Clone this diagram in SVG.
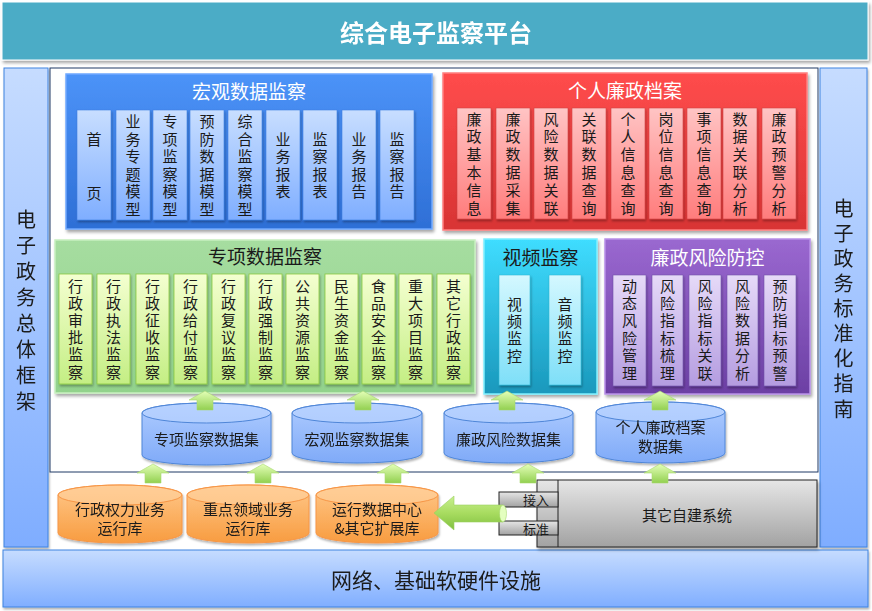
<svg xmlns="http://www.w3.org/2000/svg" width="872" height="611" viewBox="0 0 872 611">
<defs>
<style>
text{font-family:"Noto Sans CJK SC","Noto Sans",sans-serif;text-anchor:middle;dominant-baseline:central;fill:#1a1a1a}
.ct{font-size:15px}
.ttl{font-size:19px}
.w{fill:#fff}
.ds{font-size:15px}
.side{font-size:20px}
.boxM{fill:url(#gBlueBox);stroke:#6FA8FF;stroke-width:1.5}
.boxR{fill:url(#gRed);stroke:#FF8080;stroke-width:1.5}
.boxG{fill:url(#gGreen);stroke:#C8EFC0;stroke-width:1.5}
.boxC{fill:url(#gCyan);stroke:#80F0FF;stroke-width:1.5}
.boxP{fill:url(#gPurple);stroke:#B890E8;stroke-width:1.5}
.colM{fill:url(#gBlueCol);stroke:#3F7FE0;stroke-width:0.6}
.colR{fill:url(#gRedCol);stroke:#D04040;stroke-width:0.6}
.colG{fill:url(#gGreenCol);stroke:#8CC840;stroke-width:0.8}
.colC{fill:url(#gCyanCol);stroke:#30B8D8;stroke-width:0.6}
.colP{fill:url(#gPurpleCol);stroke:#7050A8;stroke-width:0.6}
.cylB{fill:url(#gCylB);stroke:#4F86D8;stroke-width:1}
.cylBt{fill:#BCD6FF;stroke:#4F86D8;stroke-width:1}
.cylO{fill:url(#gCylO);stroke:#F79646;stroke-width:1}
.cylOt{fill:#FFD2A0;stroke:#F79646;stroke-width:1}
.side-r{fill:url(#gSide);stroke:#3F83E0;stroke-width:1}
.arr{fill:url(#gArrow);stroke:#A8D870;stroke-width:0.6}
.gray{fill:url(#gGray);stroke:#222;stroke-width:1}
</style>
<linearGradient id="gSide" x1="0" y1="0" x2="0" y2="1"><stop offset="0" stop-color="#C6DCFF"/><stop offset="1" stop-color="#7FADFF"/></linearGradient>
<linearGradient id="gBot" x1="0" y1="0" x2="0" y2="1"><stop offset="0" stop-color="#C6DCFF"/><stop offset="1" stop-color="#80AEFF"/></linearGradient>
<linearGradient id="gBlueBox" x1="0" y1="0" x2="0" y2="1"><stop offset="0" stop-color="#4C93F8"/><stop offset="1" stop-color="#2E6FD6"/></linearGradient>
<linearGradient id="gBlueCol" x1="0" y1="0" x2="0" y2="1"><stop offset="0" stop-color="#C8DEFF"/><stop offset="1" stop-color="#7FAEFF"/></linearGradient>
<linearGradient id="gRed" x1="0" y1="0" x2="0" y2="1"><stop offset="0" stop-color="#FF4C4C"/><stop offset="1" stop-color="#D83434"/></linearGradient>
<linearGradient id="gRedCol" x1="0" y1="0" x2="0" y2="1"><stop offset="0" stop-color="#FFC4C4"/><stop offset="1" stop-color="#FF7C7C"/></linearGradient>
<linearGradient id="gGreen" x1="0" y1="0" x2="0" y2="1"><stop offset="0" stop-color="#A6DDA0"/><stop offset="1" stop-color="#92D28C"/></linearGradient>
<linearGradient id="gGreenCol" x1="0" y1="0" x2="0" y2="1"><stop offset="0" stop-color="#F4FFD0"/><stop offset="1" stop-color="#C4EE84"/></linearGradient>
<linearGradient id="gCyan" x1="0" y1="0" x2="0" y2="1"><stop offset="0" stop-color="#3FDDFF"/><stop offset="1" stop-color="#1A98BC"/></linearGradient>
<linearGradient id="gCyanCol" x1="0" y1="0" x2="0" y2="1"><stop offset="0" stop-color="#D4F8FF"/><stop offset="1" stop-color="#7EDFF8"/></linearGradient>
<linearGradient id="gPurple" x1="0" y1="0" x2="0" y2="1"><stop offset="0" stop-color="#9A68D0"/><stop offset="1" stop-color="#6C40A4"/></linearGradient>
<linearGradient id="gPurpleCol" x1="0" y1="0" x2="0" y2="1"><stop offset="0" stop-color="#E6DAF8"/><stop offset="1" stop-color="#B49CE0"/></linearGradient>
<linearGradient id="gCylB" x1="0" y1="0" x2="0" y2="1"><stop offset="0" stop-color="#AFCCFF"/><stop offset="1" stop-color="#7FAAF8"/></linearGradient>
<linearGradient id="gCylO" x1="0" y1="0" x2="0" y2="1"><stop offset="0" stop-color="#FFC88A"/><stop offset="1" stop-color="#F89C40"/></linearGradient>
<linearGradient id="gArrow" x1="0" y1="0" x2="0" y2="1"><stop offset="0" stop-color="#E4FFB8"/><stop offset="1" stop-color="#92D050"/></linearGradient>
<linearGradient id="gArrowH" x1="0" y1="0" x2="0" y2="1"><stop offset="0" stop-color="#C8F090"/><stop offset="0.5" stop-color="#A8DC60"/><stop offset="1" stop-color="#80C040"/></linearGradient>
<linearGradient id="gGray" x1="0" y1="0" x2="0" y2="1"><stop offset="0" stop-color="#E6E6E6"/><stop offset="1" stop-color="#A2A2A2"/></linearGradient>
<filter id="sh" x="-10%" y="-10%" width="125%" height="130%"><feDropShadow dx="1.5" dy="2.5" stdDeviation="1.8" flood-color="#000" flood-opacity="0.35"/></filter>
<filter id="shs" x="-20%" y="-10%" width="150%" height="125%"><feDropShadow dx="1" dy="2" stdDeviation="1.2" flood-color="#000" flood-opacity="0.3"/></filter>
<path id="upA" d="M0,0 L16,9 L8,9 L8,19 L-8,19 L-8,9 L-16,9 Z"/>
</defs>

<g id="top-bar" filter="url(#sh)">
<rect x="2" y="2" width="866" height="58" fill="#4BACC6" stroke="#fff" stroke-width="1"/>
<text x="436" y="31" style="font-size:24px;font-weight:bold;fill:#fff">综合电子监察平台</text>
</g>

<g id="left-panel" filter="url(#shs)">
<rect x="4" y="68" width="44" height="479" class="side-r"/>
<text class="side" x="26 26 26 26 26 26 26 26" y="218 244 270 296 322 348 374 400">电子政务总体框架</text>
</g>

<g id="right-panel" filter="url(#shs)">
<rect x="820" y="68" width="47" height="479" class="side-r"/>
<text class="side" x="843.5 843.5 843.5 843.5 843.5 843.5 843.5 843.5 843.5" y="207 232.1 257.3 282.4 307.5 332.6 357.8 382.9 408">电子政务标准化指南</text>
</g>

<g id="main-area">
<rect x="50" y="68" width="768" height="404" fill="#fff" stroke="#1F3864" stroke-width="1"/>
</g>

<g id="bottom-bar" filter="url(#shs)">
<rect x="3" y="550" width="865" height="57" fill="url(#gBot)" stroke="#3F83E0" stroke-width="1"/>
<text x="436" y="579" style="font-size:21px">网络、基础软硬件设施</text>
</g>

<g id="macro-monitor">
<rect x="66" y="74" width="366" height="155" class="boxM" filter="url(#sh)"/>
<text class="ttl w" x="249" y="90">宏观数据监察</text>
<g filter="url(#shs)">
<rect x="77" y="110" width="34" height="110" class="colM"/>
<rect x="116" y="110" width="34" height="110" class="colM"/>
<rect x="153" y="110" width="34" height="110" class="colM"/>
<rect x="190" y="110" width="34" height="110" class="colM"/>
<rect x="228" y="110" width="34" height="110" class="colM"/>
<rect x="266" y="110" width="34" height="110" class="colM"/>
<rect x="303" y="110" width="34" height="110" class="colM"/>
<rect x="342" y="110" width="34" height="110" class="colM"/>
<rect x="380" y="110" width="34" height="110" class="colM"/>
</g>
<text class="ct" x="94 94" y="138 192">首页</text>
<text class="ct" x="133 133 133 133 133 133" y="120.5 138.1 155.7 173.3 190.9 208.5">业务专题模型</text>
<text class="ct" x="170 170 170 170 170 170" y="120.5 138.1 155.7 173.3 190.9 208.5">专项监察模型</text>
<text class="ct" x="207 207 207 207 207 207" y="120.5 138.1 155.7 173.3 190.9 208.5">预防数据模型</text>
<text class="ct" x="245 245 245 245 245 245" y="120.5 138.1 155.7 173.3 190.9 208.5">综合监察模型</text>
<text class="ct" x="283 283 283 283" y="138.1 155.7 173.3 190.9">业务报表</text>
<text class="ct" x="320 320 320 320" y="138.1 155.7 173.3 190.9">监察报表</text>
<text class="ct" x="359 359 359 359" y="138.1 155.7 173.3 190.9">业务报告</text>
<text class="ct" x="397 397 397 397" y="138.1 155.7 173.3 190.9">监察报告</text>
</g>

<g id="personal-archive">
<rect x="443" y="73" width="364" height="157" class="boxR" filter="url(#sh)"/>
<text class="ttl w" x="625" y="89">个人廉政档案</text>
<g filter="url(#shs)">
<rect x="457" y="108" width="34" height="111" class="colR"/>
<rect x="496" y="108" width="34" height="111" class="colR"/>
<rect x="534" y="108" width="34" height="111" class="colR"/>
<rect x="572" y="108" width="34" height="111" class="colR"/>
<rect x="611" y="108" width="34" height="111" class="colR"/>
<rect x="649" y="108" width="34" height="111" class="colR"/>
<rect x="687" y="108" width="34" height="111" class="colR"/>
<rect x="723" y="108" width="34" height="111" class="colR"/>
<rect x="762" y="108" width="34" height="111" class="colR"/>
</g>
<text class="ct" x="474 474 474 474 474 474" y="118 135.8 153.6 171.4 189.2 207">廉政基本信息</text>
<text class="ct" x="513 513 513 513 513 513" y="118 135.8 153.6 171.4 189.2 207">廉政数据采集</text>
<text class="ct" x="551 551 551 551 551 551" y="118 135.8 153.6 171.4 189.2 207">风险数据关联</text>
<text class="ct" x="589 589 589 589 589 589" y="118 135.8 153.6 171.4 189.2 207">关联数据查询</text>
<text class="ct" x="628 628 628 628 628 628" y="118 135.8 153.6 171.4 189.2 207">个人信息查询</text>
<text class="ct" x="666 666 666 666 666 666" y="118 135.8 153.6 171.4 189.2 207">岗位信息查询</text>
<text class="ct" x="704 704 704 704 704 704" y="118 135.8 153.6 171.4 189.2 207">事项信息查询</text>
<text class="ct" x="740 740 740 740 740 740" y="118 135.8 153.6 171.4 189.2 207">数据关联分析</text>
<text class="ct" x="779 779 779 779 779 779" y="118 135.8 153.6 171.4 189.2 207">廉政预警分析</text>
</g>

<g id="special-monitor">
<rect x="55" y="240" width="420" height="153" class="boxG" filter="url(#sh)"/>
<text class="ttl" x="265" y="255">专项数据监察</text>
<g filter="url(#shs)">
<rect x="59" y="274" width="33" height="110" class="colG"/>
<rect x="97" y="274" width="33" height="110" class="colG"/>
<rect x="136" y="274" width="33" height="110" class="colG"/>
<rect x="174" y="274" width="33" height="110" class="colG"/>
<rect x="212" y="274" width="33" height="110" class="colG"/>
<rect x="249" y="274" width="33" height="110" class="colG"/>
<rect x="286" y="274" width="33" height="110" class="colG"/>
<rect x="325" y="274" width="33" height="110" class="colG"/>
<rect x="362" y="274" width="33" height="110" class="colG"/>
<rect x="399" y="274" width="33" height="110" class="colG"/>
<rect x="437" y="274" width="33" height="110" class="colG"/>
</g>
<text class="ct" x="75.5 75.5 75.5 75.5 75.5 75.5" y="285 302.2 319.4 336.6 353.8 371">行政审批监察</text>
<text class="ct" x="113.5 113.5 113.5 113.5 113.5 113.5" y="285 302.2 319.4 336.6 353.8 371">行政执法监察</text>
<text class="ct" x="152.5 152.5 152.5 152.5 152.5 152.5" y="285 302.2 319.4 336.6 353.8 371">行政征收监察</text>
<text class="ct" x="190.5 190.5 190.5 190.5 190.5 190.5" y="285 302.2 319.4 336.6 353.8 371">行政给付监察</text>
<text class="ct" x="228.5 228.5 228.5 228.5 228.5 228.5" y="285 302.2 319.4 336.6 353.8 371">行政复议监察</text>
<text class="ct" x="265.5 265.5 265.5 265.5 265.5 265.5" y="285 302.2 319.4 336.6 353.8 371">行政强制监察</text>
<text class="ct" x="302.5 302.5 302.5 302.5 302.5 302.5" y="285 302.2 319.4 336.6 353.8 371">公共资源监察</text>
<text class="ct" x="341.5 341.5 341.5 341.5 341.5 341.5" y="285 302.2 319.4 336.6 353.8 371">民生资金监察</text>
<text class="ct" x="378.5 378.5 378.5 378.5 378.5 378.5" y="285 302.2 319.4 336.6 353.8 371">食品安全监察</text>
<text class="ct" x="415.5 415.5 415.5 415.5 415.5 415.5" y="285 302.2 319.4 336.6 353.8 371">重大项目监察</text>
<text class="ct" x="453.5 453.5 453.5 453.5 453.5 453.5" y="285 302.2 319.4 336.6 353.8 371">其它行政监察</text>
</g>

<g id="video-monitor">
<rect x="484" y="239" width="113" height="155" class="boxC" filter="url(#sh)"/>
<text class="ttl" x="540.5" y="256">视频监察</text>
<g filter="url(#shs)">
<rect x="499" y="275" width="31" height="110" class="colC"/>
<rect x="549" y="275" width="32" height="110" class="colC"/>
</g>
<text class="ct" x="514.5 514.5 514.5 514.5" y="303 320.3 337.6 355">视频监控</text>
<text class="ct" x="565 565 565 565" y="303 320.3 337.6 355">音频监控</text>
</g>

<g id="risk-control">
<rect x="605" y="239" width="205" height="155" class="boxP" filter="url(#sh)"/>
<text class="ttl w" x="707.5" y="256">廉政风险防控</text>
<g filter="url(#shs)">
<rect x="613" y="275" width="33" height="111" class="colP"/>
<rect x="652" y="275" width="31" height="111" class="colP"/>
<rect x="689" y="275" width="32" height="111" class="colP"/>
<rect x="727" y="275" width="31" height="111" class="colP"/>
<rect x="764" y="275" width="32" height="111" class="colP"/>
</g>
<text class="ct" x="629.5 629.5 629.5 629.5 629.5 629.5" y="285 302.4 319.8 337.2 354.6 372">动态风险管理</text>
<text class="ct" x="667.5 667.5 667.5 667.5 667.5 667.5" y="285 302.4 319.8 337.2 354.6 372">风险指标梳理</text>
<text class="ct" x="705 705 705 705 705 705" y="285 302.4 319.8 337.2 354.6 372">风险指标关联</text>
<text class="ct" x="742.5 742.5 742.5 742.5 742.5 742.5" y="285 302.4 319.8 337.2 354.6 372">风险数据分析</text>
<text class="ct" x="780 780 780 780 780 780" y="285 302.4 319.8 337.2 354.6 372">预防指标预警</text>
</g>

<g id="ds-special" filter="url(#shs)">
<path class="cylB" d="M142,413 A64.5,10 0 0 1 271,413 V455 A64.5,10 0 0 1 142,455 Z"/>
<ellipse class="cylBt" cx="206.5" cy="413" rx="64.5" ry="10" fill-opacity="0.6"/>
<text class="ds" x="206.5" y="438">专项监察数据集</text>
</g>
<g id="ds-macro" filter="url(#shs)">
<path class="cylB" d="M292,413 A65,10 0 0 1 422,413 V453 A65,10 0 0 1 292,453 Z"/>
<ellipse class="cylBt" cx="357" cy="413" rx="65" ry="10" fill-opacity="0.6"/>
<text class="ds" x="357" y="438">宏观监察数据集</text>
</g>
<g id="ds-risk" filter="url(#shs)">
<path class="cylB" d="M444,413 A64.5,10 0 0 1 573,413 V453 A64.5,10 0 0 1 444,453 Z"/>
<ellipse class="cylBt" cx="508.5" cy="413" rx="64.5" ry="10" fill-opacity="0.6"/>
<text class="ds" x="508.5" y="438">廉政风险数据集</text>
</g>
<g id="ds-personal" filter="url(#shs)">
<path class="cylB" d="M596,412 A64.5,10 0 0 1 725,412 V453 A64.5,10 0 0 1 596,453 Z"/>
<ellipse class="cylBt" cx="660.5" cy="412" rx="64.5" ry="10" fill-opacity="0.6"/>
<text class="ds" x="660.5" y="426.5">个人廉政档案</text>
<text class="ds" x="660.5" y="445.5">数据集</text>
</g>

<g id="db-admin" filter="url(#shs)">
<path class="cylO" d="M58,495 A62,10 0 0 1 182,495 V533 A62,10 0 0 1 58,533 Z"/>
<ellipse class="cylOt" cx="120" cy="495" rx="62" ry="10" fill-opacity="0.6"/>
<text class="ds" x="120" y="508">行政权力业务</text>
<text class="ds" x="120" y="527">运行库</text>
</g>
<g id="db-key" filter="url(#shs)">
<path class="cylO" d="M187,495 A61,10 0 0 1 309,495 V533 A61,10 0 0 1 187,533 Z"/>
<ellipse class="cylOt" cx="248" cy="495" rx="61" ry="10" fill-opacity="0.6"/>
<text class="ds" x="248" y="508">重点领域业务</text>
<text class="ds" x="248" y="527">运行库</text>
</g>
<g id="db-center" filter="url(#shs)">
<path class="cylO" d="M316,495 A61,10 0 0 1 438,495 V533 A61,10 0 0 1 316,533 Z"/>
<ellipse class="cylOt" cx="377" cy="495" rx="61" ry="10" fill-opacity="0.6"/>
<text class="ds" x="377" y="508">运行数据中心</text>
<text class="ds" x="377" y="527">&amp;其它扩展库</text>
</g>

<g id="other-systems">
<rect x="537" y="480" width="280" height="67" class="gray" filter="url(#sh)"/>
<line x1="558" y1="480" x2="558" y2="547" stroke="#222" stroke-width="1"/>
<rect x="499" y="492" width="59" height="15" class="gray"/>
<rect x="499" y="521" width="59" height="14" class="gray"/>
<text x="536" y="499.5" style="font-size:13px">接入</text>
<text x="536" y="528" style="font-size:13px">标准</text>
<text class="ds" x="687" y="514">其它自建系统</text>
</g>

<g id="connectors">
<use href="#upA" class="arr" x="205" y="391"/>
<use href="#upA" class="arr" x="363" y="391"/>
<use href="#upA" class="arr" x="507" y="391"/>
<use href="#upA" class="arr" x="660" y="391"/>
<use href="#upA" class="arr" x="153" y="464"/>
<use href="#upA" class="arr" x="263" y="464"/>
<use href="#upA" class="arr" x="393" y="464"/>
<use href="#upA" class="arr" x="528" y="464"/>
<use href="#upA" class="arr" x="660" y="464"/>
<path d="M434,513 L454,496 L454,505 L503,505 L503,522 L454,522 L454,530 Z" fill="url(#gArrowH)" stroke="#9CD060" stroke-width="0.6"/>
<ellipse cx="503" cy="513.5" rx="3.5" ry="8.5" fill="#E4FFC0" stroke="#9CD060" stroke-width="0.5"/>
</g>
</svg>
